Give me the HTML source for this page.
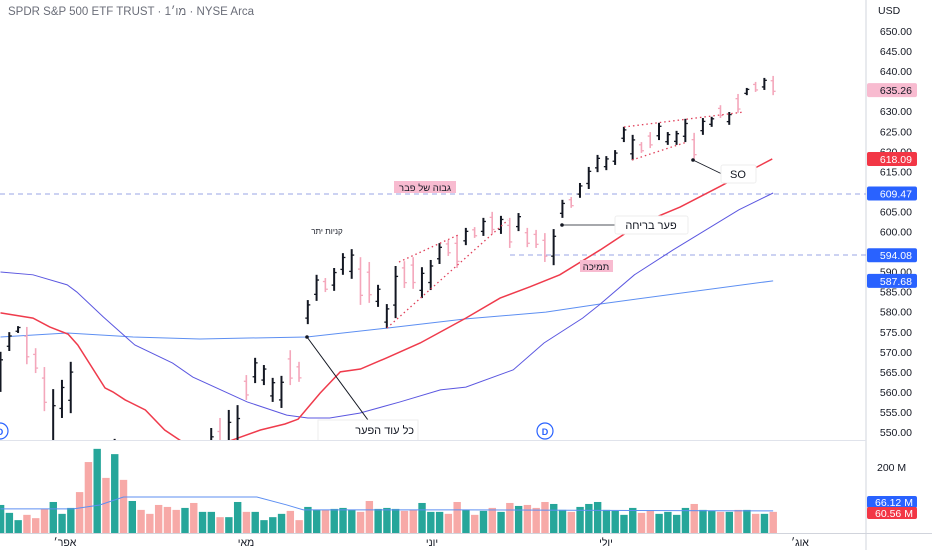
<!DOCTYPE html>
<html><head><meta charset="utf-8">
<style>
html,body{margin:0;padding:0;background:#fff;width:932px;height:550px;overflow:hidden;font-family:"Liberation Sans","Noto Sans CJK JP",sans-serif;}
svg text{font-family:"Liberation Sans","Noto Sans CJK JP",sans-serif;}
</style></head>
<body>
<svg id="chart" width="932" height="550" xmlns="http://www.w3.org/2000/svg">
<defs><clipPath id="mainClip"><rect x="0" y="0" width="866" height="440"/></clipPath></defs>
<g id="grid">
 <line x1="866" y1="0" x2="866" y2="550" stroke="#d1d4dc" stroke-width="1"/>
 <line x1="0" y1="440.5" x2="866" y2="440.5" stroke="#e0e3eb" stroke-width="1"/>
 <line x1="0" y1="533.5" x2="932" y2="533.5" stroke="#d1d4dc" stroke-width="1"/>
</g>
<text x="8" y="15" font-size="11.5" fill="#6a6d78">SPDR S&amp;P 500 ETF TRUST · 1מו׳ · NYSE Arca</text>
<text x="878" y="14" font-size="10.5" fill="#131722">USD</text>
<g id="yTicks"></g>
<line x1="0" x2="866" y1="194" y2="194" stroke="#9aa5e6" stroke-dasharray="5,4" stroke-width="1"/>
<line x1="510" x2="866" y1="255" y2="255" stroke="#9aa5e6" stroke-dasharray="5,4" stroke-width="1"/>
<g clip-path="url(#mainClip)">
 <g id="mas"></g>
 <g id="bars"></g>
 <g id="annos">
  <polyline points="399,262 458,235" fill="none" stroke="#e0405a" stroke-width="1.3" stroke-dasharray="1.5,3"/>
  <polyline points="387,328 508,220" fill="none" stroke="#e0405a" stroke-width="1.3" stroke-dasharray="1.5,3"/>
  <polyline points="624,127 744,112" fill="none" stroke="#e0405a" stroke-width="1.3" stroke-dasharray="1.5,3"/>
  <polyline points="632,160 687,142" fill="none" stroke="#e0405a" stroke-width="1.3" stroke-dasharray="1.5,3"/>
  <line x1="307" y1="337" x2="368" y2="420" stroke="#131722" stroke-width="1"/>
  <circle cx="307" cy="337" r="1.8" fill="#131722"/>
  <g>
   <rect x="318" y="420" width="100" height="32" fill="#fff" stroke="#eee"/>
   <text x="414" y="434" font-size="11" fill="#131722" text-anchor="end">כל עוד הפער</text>
   <text x="414" y="447" font-size="11" fill="#131722" text-anchor="end">פתוח - זה מעיד</text>
  </g>
  <g><circle cx="545" cy="431" r="8" fill="#fff" stroke="#2962ff" stroke-width="1.2"/><text x="545" y="435" font-size="9" font-weight="bold" fill="#2962ff" text-anchor="middle">D</text></g>
  <g><circle cx="0" cy="431" r="8" fill="#fff" stroke="#2962ff" stroke-width="1.2"/><text x="0" y="435" font-size="9" font-weight="bold" fill="#2962ff" text-anchor="middle">D</text></g>
 </g>
</g>
<g><rect x="394" y="181" width="62" height="12" fill="#f8bbd0"/><text x="425" y="191" font-size="9.5" fill="#131722" text-anchor="middle">גבוה של פבר</text></g>
<text x="327" y="234" font-size="8" fill="#131722" text-anchor="middle">קניות יתר</text>
<g>
 <line x1="562" y1="225" x2="615" y2="225" stroke="#131722" stroke-width="0.8"/><circle cx="562" cy="225" r="1.8" fill="#131722"/>
 <rect x="615" y="216" width="73" height="18" rx="2" fill="#fff" stroke="#eee"/>
 <text x="651" y="229" font-size="11" fill="#131722" text-anchor="middle">פער בריחה</text>
</g>
<g><rect x="580" y="260" width="33" height="12" fill="#f8bbd0"/><text x="596" y="270" font-size="9.5" fill="#131722" text-anchor="middle">תמיכה</text></g>
<g>
 <line x1="693" y1="160" x2="722" y2="174" stroke="#131722" stroke-width="0.8"/><circle cx="693" cy="160" r="1.8" fill="#131722"/>
 <rect x="721" y="165" width="35" height="18" rx="2" fill="#fff" stroke="#eee"/>
 <text x="738" y="178" font-size="11" fill="#131722" text-anchor="middle">SO</text>
</g>
<g id="vol"></g>
<g id="lastLabels"></g>
<g font-size="10.5" fill="#131722" text-anchor="middle">
 <text x="65" y="546">אפר׳</text><text x="246" y="546">מאי</text><text x="432" y="546">יוני</text><text x="606" y="546">יולי</text><text x="800" y="546">אוג׳</text>
</g>
</svg>
<script>
// ---- data ----
const barHigh=[570,574.9,576.4,576.2,570.9,566.2,560.7,563.0,567.5,546,540,535,530,548.3,545,540,538,536,540,542,544,546,545,544,551.0,553.5,555.5,556.7,564.2,568.5,566.7,563.5,564.0,570.4,567.5,582.9,589.2,588.4,590.9,594.6,595.6,593.6,592.4,586.7,581.9,591.4,592.6,593.6,591.1,592.9,597.1,597.9,599.1,600.9,601.1,603.4,604.9,603.9,603.4,604.6,600.9,600.4,599.6,600.6,607.9,608.6,612.1,616.1,619.1,618.8,620.3,626.1,624.1,622.3,624.8,627.1,624.8,625.1,628.1,624.6,628.3,628.6,631.5,629.8,634.3,635.8,637.3,638.3,638.8];
const barLow=[560,570.2,574.7,566.9,564.7,555.2,540,553.5,554.7,530,525,520,515,530,528,525,524,522,525,527,530,532,533,532,540,540,540,540,558.0,562.2,561.7,557.5,556.0,561.7,562.5,576.9,582.7,584.9,585.2,589.2,588.2,581.7,582.2,581.2,575.9,578.4,585.9,585.7,583.4,585.4,591.9,593.9,590.9,596.6,598.4,598.9,599.4,599.4,595.9,600.1,596.1,595.9,592.4,591.6,603.4,605.9,608.4,610.6,614.8,615.3,616.6,622.3,617.8,619.6,620.8,622.8,621.6,621.6,622.3,617.8,624.1,626.1,628.3,626.6,629.6,634.0,634.8,635.3,634.0];
const barUp=[1,1,1,0,0,0,1,1,1,0,0,1,0,1,0,1,0,0,0,0,0,1,0,1,1,0,1,1,0,1,1,1,1,0,0,1,1,0,1,1,1,0,0,1,1,1,0,0,1,1,1,0,0,1,0,1,0,1,0,1,0,0,0,1,1,0,1,1,1,1,1,1,1,0,0,1,1,1,1,0,1,1,0,1,0,1,0,1,0];
const volume=[85,61,39,55,45,73,94,58,76,124,215,255,167,239,161,97,70,58,85,79,70,76,91,64,64,48,48,94,64,64,39,48,58,67,39,79,70,70,73,76,70,64,97,73,76,73,67,70,91,64,64,58,94,70,55,67,76,64,91,82,85,76,94,88,70,64,79,88,94,70,67,55,76,61,67,58,64,55,76,88,70,67,64,64,70,70,58,58,64];
const ma20Idx=[0,3.7,5.6,7.7,8.8,11.9,12.8,14.2,16.5,18.7,20.4,22.7,26.4,29.6,32.4,33.9,36.4,38.7,41,44,47.8,53,56.9,60.3,63.7,68.3,72.8,77.4,82,87.9];
const ma20Val=[579.7,578.4,576.2,574.4,571.7,561.0,560.0,558.0,555.5,550.5,548.0,545.0,548.0,550.5,552.0,553.2,559.7,565.0,565.7,568.5,572.2,578.4,583.4,586.2,589.2,595.4,601.9,606.1,611.3,618.1];
const ma50Idx=[0,3.7,7.6,8.7,11.7,15.3,19.6,21.9,28.1,32.6,35,37.5,40.9,45.5,50.1,53,58.4,61.9,66.3,68.2,72.2,76.6,84.1,88];
const ma50Val=[589.9,589.2,586.7,584.9,578.7,571.7,567.2,563.7,557.5,554.2,553.5,553.5,554.7,557.5,560.5,561.2,565.5,572.2,578.4,581.7,589.2,595.4,605.4,609.6];
const ma200Idx=[0,7.6,15.1,22.7,34.9,44,53,62.1,68.2,88];
const ma200Val=[573.7,574.7,573.7,573.2,573.7,575.9,578.2,579.9,581.9,587.7];
const volMaIdx=[0,8.3,11.3,14,17,24.7,29.2,32.6,34.5,53,88];
const volMaVal=[73,73,85,109,109,109,109,85,70,70,67];
const yTicks=[650,645,640,635,630,625,620,615,610,605,600,595,590,585,580,575,570,565,560,555,550];
const lastValues=[635.26,618.09,609.47,594.08,587.68];
const lastColors=['#f8bbd0','#f23645','#2962ff','#2962ff','#2962ff'];
// ---- scales ----
const NS='http://www.w3.org/2000/svg';
const xS=i=>0.5+8.78*i;
const yS=p=>31+(650-p)*4.01;
const vS=v=>533-v*0.33;
function mk(tag,attrs,parent){const e=document.createElementNS(NS,tag);for(const k in attrs)e.setAttribute(k,attrs[k]);parent.appendChild(e);return e;}
const yT=document.getElementById('yTicks');
yTicks.forEach(p=>{const t=mk('text',{x:912,y:yS(p)+4,'font-size':10.5,fill:'#131722','text-anchor':'end'},yT);t.textContent=p.toFixed(2);

});
const vt=mk('text',{x:877,y:471,'font-size':10.5,fill:'#131722'},yT);vt.textContent='200 M';
const bars=document.getElementById('bars');
barHigh.forEach((h,i)=>{
 const l=barLow[i],up=barUp[i],x=xS(i);
 const col=up?'#131722':'#f4a7bb';
 const g=mk('g',{},bars);
 
 
 const rng=h-l;const o=up?l+rng*0.25:h-rng*0.25;const c=up?h-rng*0.2:l+rng*0.2;
 mk('line',{x1:x,x2:x,y1:yS(h),y2:yS(l),stroke:col,'stroke-width':up?2:1.6},g);
 mk('line',{x1:x-2.5,x2:x,y1:yS(o),y2:yS(o),stroke:col,'stroke-width':1.3},g);
 mk('line',{x1:x,x2:x+2.5,y1:yS(c),y2:yS(c),stroke:col,'stroke-width':1.3},g);
});
const mas=document.getElementById('mas');
function line(idx,val,col,w,name,ys,par){const pts=idx.map((d,k)=>xS(d)+','+ys(val[k])).join(' ');const pl=mk('polyline',{points:pts,fill:'none',stroke:col,'stroke-width':w},par);return pl;}
const m200=line(ma200Idx,ma200Val,'#5d8ff2',1,'',yS,mas);


const m50=line(ma50Idx,ma50Val,'#5b57e0',1,'',yS,mas);


const m20=line(ma20Idx,ma20Val,'#ef3b4c',1.5,'',yS,mas);


const vol=document.getElementById('vol');
volume.forEach((v,i)=>{const r=mk('rect',{x:xS(i)-3.6,y:vS(v),width:7.4,height:533-vS(v),fill:barUp[i]?'#26a69a':'#f7a9a7'},vol);

});
const vm=line(volMaIdx,volMaVal,'#5d8ff2',1,'',vS,vol);


const ll=document.getElementById('lastLabels');
lastValues.forEach((p,k)=>{const y=yS(p);const g=mk('g',{},ll);


mk('rect',{x:867,y:y-7,width:50,height:14,rx:2,fill:lastColors[k]},g);
const t=mk('text',{x:912,y:y+4,'font-size':10.5,fill:k===0?'#131722':'#fff','text-anchor':'end'},g);t.textContent=p.toFixed(2);});
[[66.12,'#2962ff',502],[60.56,'#f23645',513]].forEach(a=>{const g=mk('g',{},ll);


mk('rect',{x:867,y:a[2]-6,width:50,height:12,rx:2,fill:a[1]},g);
const t=mk('text',{x:875,y:a[2]+4,'font-size':10.5,fill:'#fff'},g);t.textContent=a[0].toFixed(2)+' M';});
</script>
</body></html>
